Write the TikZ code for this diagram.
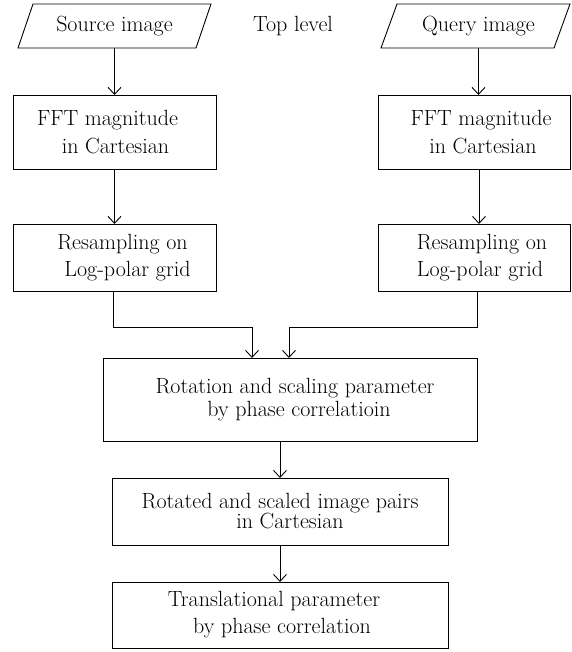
\documentclass[tikz,border=0pt]{standalone}
\usetikzlibrary{calc,arrows.meta}
\newcommand\shiftln[2]{\hspace*{#1}#2\hspace*{-#1}}
\begin{document}
\begin{tikzpicture}[x=1pt,y=-1pt,
  font=\fontsize{22}{26}\selectfont,
  line width=0.9pt,
  box/.style={draw, rectangle, align=center, inner sep=0pt, outer sep=0pt},
  io/.style={rectangle, align=center, inner sep=0pt, outer sep=0pt, minimum height=44pt},
  arr/.style={-{Straight Barb[length=7pt,width=13pt]}}]
\useasboundingbox (0,0) rectangle (571,652);

% inputs
\node[io, minimum width=178pt] (src) at (114.5,26) {Source image};
\draw ($(src.north west)+(7.5,0)$) -- ($(src.north east)+(7.5,0)$) -- ($(src.south east)+(-7.5,0)$) -- ($(src.south west)+(-7.5,0)$) -- cycle;
\node[io, minimum width=173pt] (qry) at (475.5,26) {\shiftln{3pt}{Query image}};
\draw ($(qry.north west)+(8,0)$) -- ($(qry.north east)+(8,0)$) -- ($(qry.south east)+(-8,0)$) -- ($(qry.south west)+(-8,0)$) -- cycle;
\node (top) at (293,26) {Top level};

% boxes
\node[box, minimum width=203pt, minimum height=74pt, font=\fontsize{22}{28}\selectfont] (fl) at (114.5,132) {\shiftln{-7pt}{FFT magnitude}\\\shiftln{1pt}{in Cartesian}};
\node[box, minimum width=192pt, minimum height=74pt, font=\fontsize{22}{28}\selectfont] (fr) at (474,132) {\shiftln{7pt}{FFT magnitude}\\\shiftln{9pt}{in Cartesian}};
\node[box, minimum width=203pt, minimum height=67pt, font=\fontsize{22}{27}\selectfont] (rl) at (114.5,257.5) {\shiftln{8pt}{Resampling on}\\\shiftln{13pt}{Log-polar grid}};
\node[box, minimum width=192pt, minimum height=67pt, font=\fontsize{22}{27}\selectfont] (rr) at (474,257.5) {\shiftln{8pt}{Resampling on}\\\shiftln{6pt}{Log-polar grid}};
\node[box, minimum width=374pt, minimum height=83pt, font=\fontsize{22}{23}\selectfont] (big) at (290,399.5) {\shiftln{5pt}{Rotation and scaling parameter}\\\shiftln{9pt}{by phase correlatioin}};
\node[box, minimum width=336pt, minimum height=67pt, font=\fontsize{22}{20}\selectfont] (b2) at (280,511.5) {Rotated and scaled image pairs\\\shiftln{10pt}{in Cartesian}};
\node[box, minimum width=336pt, minimum height=66pt, font=\fontsize{22}{27}\selectfont] (b3) at (280,615) {\shiftln{-6pt}{Translational parameter}\\\shiftln{2pt}{by phase correlation}};

% connectors
\draw[arr] (src.south) -- (src.south |- fl.north);
\draw[arr] ([xshift=3pt]qry.south) -- ([xshift=3pt]qry.south |- fr.north);
\draw[arr] (fl.south) -- (fl.south |- rl.north);
\draw[arr] ([xshift=5pt]fr.south) -- ([xshift=5pt]fr.south |- rr.north);
\coordinate (ml) at (252,327);
\coordinate (mr) at (289,327);
\draw[arr] ([xshift=-1pt]rl.south) |- (ml) -- (ml |- big.north);
\draw[arr] ([xshift=3pt]rr.south) |- (mr) -- (mr |- big.north);
\draw[arr] (b2.north |- big.south) -- (b2.north);
\draw[arr] (b2.south) -- (b3.north);
\end{tikzpicture}
\end{document}
